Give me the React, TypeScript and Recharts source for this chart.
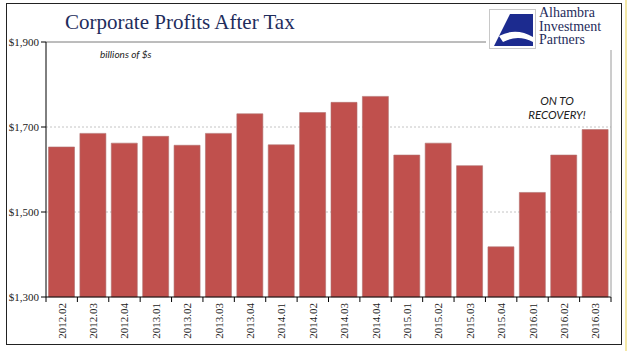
import { BarChart, Bar, XAxis, YAxis, CartesianGrid, ReferenceLine } from "recharts";

const quarters = [
  "2012.02", "2012.03", "2012.04", "2013.01", "2013.02", "2013.03",
  "2013.04", "2014.01", "2014.02", "2014.03", "2014.04", "2015.01",
  "2015.02", "2015.03", "2015.04", "2016.01", "2016.02", "2016.03",
];
const profits = [
  1653, 1685, 1662, 1678, 1657, 1685,
  1731, 1658, 1734, 1758, 1772, 1634,
  1662, 1609, 1418, 1546, 1634, 1694,
];
const yTicks = [1300, 1500, 1700, 1900];
const gridValues = [1500, 1700];

const W = 640;
const H = 351;
const PLOT_LEFT = 46;
const PLOT_RIGHT = 611;
const AXIS_Y = 297;
const HALF_BAND = (PLOT_RIGHT - PLOT_LEFT) / quarters.length / 2;

const serif = "'Liberation Serif', 'DejaVu Serif', serif";
const sans = "Lato, 'Open Sans', sans-serif";

const data = quarters.map((q, i) => ({ q, value: profits[i] }));

// category labels sit at band centres, tick marks at the band edges
function QuarterTick(props: any) {
  const { x, payload, index } = props;
  const last = index === quarters.length - 1;
  return (
    <g>
      <line x1={x - HALF_BAND} x2={x - HALF_BAND} y1={AXIS_Y} y2={AXIS_Y + 5} stroke="#000" />
      {last && <line x1={x + HALF_BAND} x2={x + HALF_BAND} y1={AXIS_Y} y2={AXIS_Y + 5} stroke="#000" />}
      <text
        x={x}
        y={AXIS_Y + 6}
        dy={4}
        transform={`rotate(-90, ${x}, ${AXIS_Y + 6})`}
        textAnchor="end"
        fontSize={11}
        fontFamily={serif}
        fill="#222"
      >
        {payload.value}
      </text>
    </g>
  );
}

function Logo() {
  return (
    <div style={{ position: "absolute", left: 486, top: 3, width: 136, height: 47, background: "#fff" }}>
      <div style={{ position: "absolute", left: 3, top: 6, width: 47, height: 40, border: "1px solid #c8c8c8", boxSizing: "border-box" }}>
        <svg width={45} height={38}>
          <path d="M20 4 L43 4 L43 36 L4 36 Z" fill="#1c2b8f" />
          <path d="M9 26 Q26 17 43 27 L43 32 Q28 24 13 32 Z" fill="#fff" />
        </svg>
      </div>
      <div style={{ position: "absolute", left: 53, top: 3, fontFamily: serif, fontSize: 14, lineHeight: "13.5px", color: "#1f2d5c" }}>
        Alhambra<br />Investment<br />Partners
      </div>
    </div>
  );
}

export default function App() {
  return (
    <div style={{ position: "absolute", left: 0, top: 0, width: W, height: H, background: "#fff", overflow: "hidden" }}>
      <BarChart width={W} height={H} data={data} margin={{ top: 42, right: 0, bottom: 4, left: 0 }} barCategoryGap="8%">
        <CartesianGrid vertical={false} horizontalValues={gridValues} stroke="#c4c4c4" strokeDasharray="2 2" />
        <XAxis
          dataKey="q"
          interval={0}
          height={50}
          tickLine={false}
          axisLine={{ stroke: "#000" }}
          tick={<QuarterTick />}
        />
        <YAxis
          width={PLOT_LEFT}
          domain={[1300, 1900]}
          ticks={yTicks}
          tickSize={5}
          tickMargin={2}
          axisLine={{ stroke: "#000" }}
          tickLine={{ stroke: "#000" }}
          tick={{ fontSize: 11, fontFamily: serif, fill: "#222" }}
          tickFormatter={(v: number) => `$${v.toLocaleString("en-US")}`}
        />
        <YAxis
          yAxisId="r"
          orientation="right"
          width={W - PLOT_RIGHT}
          domain={[1300, 1900]}
          tick={false}
          tickLine={false}
          axisLine={{ stroke: "#9a9a9a" }}
        />
        <ReferenceLine y={1900} stroke="#7a7a7a" ifOverflow="visible" />
        <Bar dataKey="value" fill="#C0504D" stroke="#b0706e" strokeWidth={0.6} isAnimationActive={false} />
      </BarChart>

      <div style={{ position: "absolute", left: 65, top: 10, fontFamily: serif, fontSize: 21, color: "#1f2d5c", whiteSpace: "nowrap" }}>
        Corporate Profits After Tax
      </div>
      <div style={{ position: "absolute", left: 100, top: 48, fontFamily: sans, fontStyle: "italic", fontSize: 10, color: "#222" }}>
        billions of $s
      </div>
      <div style={{ position: "absolute", left: 517, top: 94, width: 80, textAlign: "center", fontFamily: sans, fontStyle: "italic", fontSize: 11.5, lineHeight: "14px", color: "#222" }}>
        ON TO<br />RECOVERY!
      </div>
      <Logo />
      <div style={{ position: "absolute", left: 6, top: 3, width: 616, height: 342, border: "1px solid #222", boxSizing: "border-box", pointerEvents: "none" }} />
      <div style={{ position: "absolute", left: 625, top: 0, width: 2, height: H, background: "#f3e7a6" }} />
    </div>
  );
}
